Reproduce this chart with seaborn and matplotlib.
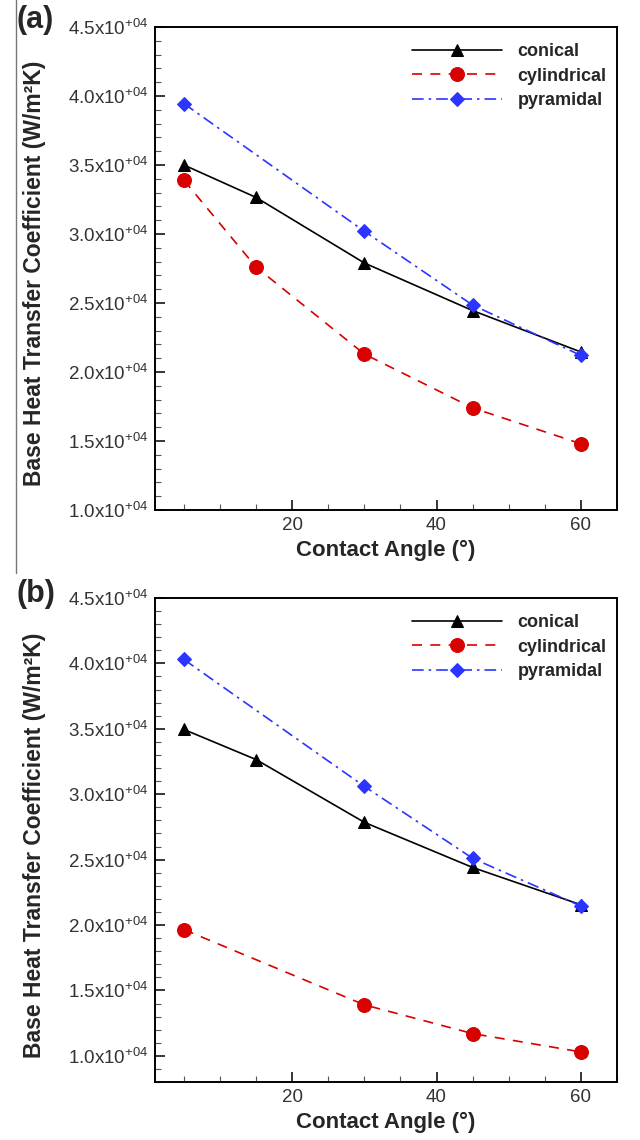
import numpy as np
import pandas as pd
import matplotlib
matplotlib.use("Agg")
import matplotlib.pyplot as plt
import seaborn as sns
from matplotlib.ticker import MultipleLocator, FuncFormatter
from matplotlib.lines import Line2D

# contact angle (deg)
angle_con = [5, 15, 30, 45, 60]
angle_cyl_a = [5, 15, 30, 45, 60]
angle_cyl_b = [5, 30, 45, 60]
angle_pyr = [5, 30, 45, 60]

# panel (a) base heat transfer coefficient (W/m2K)
conical_a = [35000, 32650, 27900, 24450, 21450]
cylindrical_a = [33900, 27600, 21300, 17400, 14800]
pyramidal_a = [39450, 30200, 24850, 21200]

# panel (b)
conical_b = [34950, 32650, 27850, 24400, 21550]
cylindrical_b = [19650, 13900, 11700, 10300]
pyramidal_b = [40300, 30600, 25100, 21450]

panel_labels = ["(a)", "(b)"]
series_names = ["conical", "cylindrical", "pyramidal"]

sns.set_style("ticks")
plt.rcParams["font.family"] = ["Liberation Sans", "DejaVu Sans"]
plt.rcParams["mathtext.default"] = "regular"

fig = plt.figure(figsize=(6.4, 11.4), dpi=100)
ax_a = fig.add_axes([155/640, 1-510/1140, 462/640, 483/1140])
ax_b = fig.add_axes([155/640, 1-1082/1140, 462/640, 484/1140])


def sci_fmt(v, pos):
    return "%.1fx10$^{+04}$" % (v / 1e4)


def draw_panel(ax, con, cyl, cyl_x, pyr, ylo):
    sns.lineplot(x=angle_con, y=con, ax=ax, color="black", marker="^",
                 markersize=8, markeredgecolor="black", linewidth=1.2,
                 label=series_names[0])
    sns.lineplot(x=cyl_x, y=cyl, ax=ax, color="#d90000", marker="o",
                 markersize=10, markeredgecolor="#d90000", linewidth=1.2,
                 linestyle=(0, (6, 5)), label=series_names[1])
    sns.lineplot(x=angle_pyr, y=pyr, ax=ax, color="#2b35ff", marker="D",
                 markersize=7.5, markeredgecolor="#2b35ff", linewidth=1.2,
                 linestyle=(0, (7, 3, 1.5, 3)), label=series_names[2])

    ax.set_xlim(1, 65)
    ax.set_ylim(ylo, 45000)
    ax.xaxis.set_major_locator(MultipleLocator(20))
    ax.xaxis.set_minor_locator(MultipleLocator(5))
    ax.yaxis.set_major_locator(MultipleLocator(5000))
    ax.yaxis.set_minor_locator(MultipleLocator(1000))
    ax.yaxis.set_major_formatter(FuncFormatter(sci_fmt))
    ax.tick_params(which="major", direction="in", length=7, width=1.3,
                   labelsize=13.5, labelcolor="#333333", pad=5,
                   top=False, right=False)
    ax.tick_params(which="minor", direction="in", length=4, width=0.8,
                   color="#555555", top=False, right=False)
    for s in ax.spines.values():
        s.set_linewidth(1.4)
        s.set_color("black")

    ax.set_xlabel("Contact Angle (°)", fontsize=16, fontweight="bold",
                  labelpad=4)
    ax.set_ylabel("Base Heat Transfer Coefficient (W/m²K)", fontsize=16.5,
                  fontweight="bold")
    ax.yaxis.set_label_coords(-0.235, 0.49)

    ax.legend(loc="upper left", bbox_to_anchor=(0.556, 0.966),
              frameon=False, handlelength=5.0, handletextpad=0.85,
              labelspacing=0.4, borderpad=0, borderaxespad=0,
              prop={"weight": "bold", "size": 13})


draw_panel(ax_a, conical_a, cylindrical_a, angle_cyl_a, pyramidal_a, 10000)
draw_panel(ax_b, conical_b, cylindrical_b, angle_cyl_b, pyramidal_b, 8000)

fig.text(17/640, 1-5/1140, panel_labels[0], fontsize=22, fontweight="bold",
         va="top", ha="left")
fig.text(17/640, 1-579/1140, panel_labels[1], fontsize=22, fontweight="bold",
         va="top", ha="left")

# thin frame line at the left of the top panel
fig.add_artist(Line2D([16/640, 16/640], [1-573/1140, 1.0], color="#777777",
                      linewidth=1.0, transform=fig.transFigure))

fig.savefig("out.png", dpi=100)
